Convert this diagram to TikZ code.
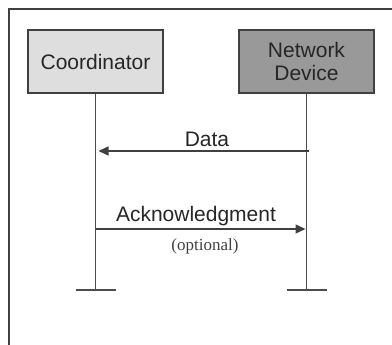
\documentclass[tikz,border=0pt]{standalone}
\usepackage{fontspec}
\setmainfont{Liberation Sans}
\newfontfamily\optfont{Liberation Serif}
\usetikzlibrary{arrows.meta}

\tikzset{
  entity/.style={draw=black!75, line width=1.5pt, minimum width=135pt, minimum height=63pt,
    inner sep=0pt, align=center, text=black!85, font=\fontsize{21}{25}\selectfont},
  lifeline/.style={draw=black!70, line width=1.5pt},
  foot/.style={draw=black!70, line width=2.4pt},
  msg/.style={draw=black!75, line width=1.4pt, -{Triangle[length=10pt,width=9pt]}},
  msglabel/.style={text=black!85, font=\fontsize{21}{25}\selectfont, inner sep=0pt},
}

\begin{document}
\begin{tikzpicture}[x=1pt, y=-1pt]

    % constants
    \def\xco{95.5}
    \def\xnd{306.5}
    \def\ytop{61.5}
    \def\yend{290}
    \def\ydata{151}
    \def\yack{229}

    \useasboundingbox (0,0) rectangle (392,345);

    % frame
    \draw [black!75, line width=1.5pt] (392,9) -- (9,9) -- (9,345);

    % entities
    \node [entity, fill=black!13] (coord) at (\xco,\ytop) {Coordinator};
    \node [entity, fill=black!40] (netdev) at (\xnd,\ytop) {Network\\[-2pt]Device};

    % lifelines
    \coordinate (coordend) at (\xco,\yend);
    \coordinate (netdevend) at (\xnd,\yend);
    \draw [lifeline] (coord.south) -- (coordend);
    \draw [lifeline] (netdev.south) -- (netdevend);
    \draw [foot] ([xshift=-20pt]coordend) -- ([xshift=20pt]coordend);
    \draw [foot] ([xshift=-20pt]netdevend) -- ([xshift=20pt]netdevend);

    % messages
    \coordinate (datasrc) at (\xnd+2,\ydata);
    \coordinate (datadst) at (\xco+3,\ydata);
    \draw [msg] (datasrc) -- (datadst);
    \node [msglabel] (datalbl) at (207,139) {Data};

    \coordinate (acksrc) at (\xco,\yack);
    \coordinate (ackdst) at (\xnd-1,\yack);
    \draw [msg] (acksrc) -- (ackdst);
    \node [msglabel] (acklbl) at (196,216) {Acknowledgment};
    \node [text=black!75, font=\optfont\fontsize{17}{19}\selectfont, inner sep=0pt] (optlbl) at (205,246) {(optional)};

\end{tikzpicture}
\end{document}
